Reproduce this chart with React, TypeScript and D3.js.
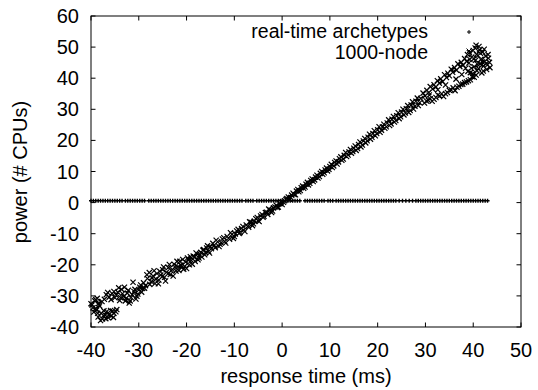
import React from 'react';
import * as d3 from 'd3';

// tick values
const xTicks = [-40, -30, -20, -10, 0, 10, 20, 30, 40, 50];
const yTicks = [-40, -30, -20, -10, 0, 10, 20, 30, 40, 50, 60];

// "real-time archetypes" sits on a flat line
const archY = 0.6;
const archX = [
  -40, -39.5, -39, -38.5, -38, -37.5, -37, -36.5, -36, -35.5, -35, -34.5, -34, -33.5, -32.8, -32.3, -31.8, -31.3,
  -30.8, -30.3, -29.8, -29.3, -28.8, -27.9, -27.4, -26.9, -26.4, -25.9, -25.4, -24.9, -24.4, -23.9, -23.4, -22.9,
  -22.4, -21.9, -21.4, -20.9, -20.4, -19.9, -19.4, -18.9, -18.4, -17.9, -17.4, -16.9, -16.4, -15.9, -15.4, -14.9,
  -14.4, -13.9, -13.4, -12.9, -12.4, -11.9, -11.4, -10.9, -10.4, -9.9, -9.4, -8.9, -8.4, -7.6, -7.1, -6.6, -6.1,
  -5.3, -4.8, -4.3, -3.8, -3.3, -2.8, -2.3, -1.8, -1.3, -0.8, -0.3, 0.2, 0.7, 1.2, 1.7, 2.2, 2.7, 3.2, 3.7, 4.8, 5.3,
  5.8, 6.3, 6.8, 7.3, 7.8, 8.3, 8.8, 9.6, 10.1, 10.6, 11.3, 11.8, 12.3, 12.8, 13.3, 13.8, 14.3, 14.8, 15.3, 15.8,
  16.3, 16.8, 17.3, 17.8, 18.3, 18.8, 19.3, 19.8, 20.3, 20.8, 21.3, 21.8, 22.3, 22.8, 23.3, 23.8, 24.5, 25.2, 25.9,
  26.6, 27.3, 28, 28.5, 29, 29.5, 30, 30.5, 31, 31.5, 32, 32.5, 33, 33.5, 34, 34.5, 35, 35.5, 36, 36.5, 37, 37.5, 38,
  38.5, 39, 39.5, 40, 40.5, 41, 41.5, 42, 42.5, 43,
];

// "1000-node" points as [response time, power]
const nodeLow: [number, number][] = [
  [-40, -32.5], [-39.6, -33.8], [-39.2, -31.6], [-38.8, -34.5], [-38.5, -36.8], [-38.2, -33.2], [-37.9, -35.6],
  [-37.6, -37.4], [-37.3, -34.8], [-37, -36.2], [-36.7, -35], [-36.4, -37], [-36.1, -35.8], [-35.8, -36.4],
  [-35.5, -34.9], [-35.2, -35.6], [-34.8, -35.1],
  [-39.8, -32.9], [-39.4, -35.2], [-39, -34], [-38.6, -35.6], [-38, -37.9], [-37.4, -36.3], [-36.9, -37.3],
  [-36.3, -36.1], [-35.9, -34.7], [-35.3, -36.9], [-34.6, -34.4],
  [-39, -31.2], [-38.4, -32.4], [-37.7, -31.8], [-36.8, -29.6], [-36.2, -30.4], [-35.6, -29.2], [-35, -30.6],
  [-34.4, -28.8], [-34, -31.5], [-33.6, -27.9], [-33.2, -30.2], [-32.8, -31.6], [-32.4, -29.1], [-32, -32.3],
  [-31.6, -30.5], [-31.2, -25.6], [-31, -28.6], [-30.6, -31], [-30.2, -29.4], [-29.8, -27.2], [-29.4, -28.8],
  [-38.7, -30.8], [-37.2, -31.1], [-36.5, -28.9], [-35.8, -31.2], [-35.2, -28.6], [-34.7, -29.8], [-34.2, -27.4],
  [-33.8, -30.6], [-33.4, -29.3], [-33, -27.2], [-32.6, -30.7], [-32.2, -28.2], [-31.8, -31.6], [-31.4, -29.6],
  [-30.8, -27.9], [-30.4, -30.1], [-30, -28.1], [-29.6, -26.5], [-29.2, -27.6],
];
const nodeMid: [number, number][] = [
  [-29, -25.8], [-28.6, -26.7], [-28.2, -24.4], [-27.8, -22.5], [-27.4, -25.4], [-27, -23.6], [-26.6, -26],
  [-26.2, -22.8], [-25.8, -24.9], [-25.4, -23.3], [-25, -21.6], [-24.6, -24], [-24.2, -22.4], [-23.8, -20.9],
  [-23.4, -23.1], [-23, -21.5], [-22.6, -19.8], [-22.2, -22], [-21.8, -20.6], [-21.4, -18.9], [-21, -20.3],
  [-20.6, -21.4], [-20.2, -19.1], [-19.8, -17.8], [-19.4, -20], [-19, -18.6], [-18.6, -17.2], [-18.2, -18.9],
  [-17.8, -16.5], [-17.4, -17.8], [-17, -16], [-16.6, -15.3], [-16.2, -16.8], [-15.8, -14.6], [-15.4, -15.7],
  [-15, -14.2], [-14.5, -13.1], [-14, -14.5], [-13.5, -12.6], [-13, -13.4], [-12.5, -11.7], [-12, -12.5],
  [-11.5, -10.9], [-11, -11.8], [-10.5, -10.2], [-10, -10.9], [-9.5, -9.1], [-9, -9.9], [-8.5, -8.3], [-8, -8.8],
  [-7.5, -7.2], [-7, -7.9], [-6.5, -6.3], [-6, -6.8], [-5.5, -5.2], [-5, -5.8], [-4.5, -4.3], [-4, -4.7],
  [-3.5, -3.2], [-3, -3.8], [-2.5, -2.4], [-2, -2.7], [-1.5, -1.4], [-1, -1.6], [-0.5, -0.4], [0, -0.6],
  [-28.8, -27.5], [-28.3, -23.2], [-27.7, -26.3], [-27.2, -24.2], [-26.8, -21.9], [-26.4, -24.6], [-25.9, -26.1],
  [-25.6, -22.1], [-25.1, -23.8], [-24.8, -20.7], [-24.4, -25.2], [-23.9, -22.9], [-23.6, -19.9], [-23.2, -21.9],
  [-22.8, -23.6], [-22.4, -20.8], [-22, -18.9], [-21.6, -21.8], [-21.2, -20.1], [-20.8, -18.3], [-20.4, -20.5],
  [-20, -21.2], [-19.6, -18.5], [-19.2, -17.4], [-18.8, -19.8], [-18.4, -17.6], [-18, -16.2], [-17.6, -18.4],
  [-17.2, -16.9], [-16.8, -17.5], [-16.4, -15.1], [-16, -16.1], [-15.6, -13.9], [-15.2, -16.2], [-14.8, -14.8],
  [-14.2, -13.7], [-13.8, -12.1], [-13.2, -14.1], [-12.8, -12.9], [-12.2, -11.3], [-11.8, -13], [-11.2, -11.4],
  [-10.8, -9.7], [-10.2, -11.5], [-9.8, -10.1], [-9.2, -8.6], [-8.8, -9.6], [-8.2, -7.7], [-7.8, -9.3],
  [-7.2, -7.6], [-6.8, -6.2], [-6.2, -7.4], [-5.8, -5.9], [-5.2, -4.8], [-4.8, -6.1], [-4.2, -3.8], [-3.8, -4.4],
  [-3.2, -3.1], [-2.8, -2.1], [-2.2, -3.2], [-1.8, -1.7], [-1.2, -0.9], [-0.8, -1.4], [-0.2, 0.2],
  [0.5, 0.6], [1, 1.3], [1.5, 1.1], [2, 2.4], [2.5, 2.6], [3, 3.7], [3.5, 3.5], [4, 4.8], [4.5, 4.6], [5, 5.9],
  [5.5, 5.7], [6, 7.1], [6.5, 6.8], [7, 8.2], [7.5, 7.9], [8, 9.4], [8.5, 9.1], [9, 10.5], [9.5, 10.2], [10, 11.6],
  [10.5, 11.3], [11, 12.9], [11.5, 12.4], [12, 14.1], [12.5, 13.6], [13, 15.2], [13.5, 14.8], [14, 16.3],
  [14.5, 15.9], [15, 17.5], [15.5, 16.8], [16, 18.7], [16.5, 17.9], [17, 19.8], [17.5, 19.2], [18, 21],
  [18.5, 20.4], [19, 22.2], [19.5, 21.5], [20, 23.4], [20.5, 22.6], [21, 24.3], [21.5, 23.9], [22, 25.6],
  [22.5, 24.8], [23, 26.8], [23.5, 25.9], [24, 27.9], [24.5, 27], [25, 29.1], [25.5, 28.2], [26, 30.2],
  [26.5, 29], [27, 31.4], [27.5, 30.1], [28, 32.6], [28.5, 31.2], [29, 33.5],
  [0.3, 0.1], [0.8, 1], [1.3, 1.8], [1.8, 1.6], [2.3, 3], [2.8, 2.5], [3.3, 4.2], [3.8, 3.9], [4.3, 5.3], [4.8, 5],
  [5.3, 6.5], [5.8, 6.2], [6.3, 7.6], [6.8, 7.3], [7.3, 8.8], [7.8, 8.4], [8.3, 10], [8.8, 9.6], [9.3, 11.1],
  [9.8, 10.7], [10.3, 12.3], [10.8, 11.8], [11.3, 13.4], [11.8, 13.1], [12.3, 14.7], [12.8, 14], [13.3, 16.1],
  [13.8, 15.3], [14.3, 17.1], [14.8, 16.4], [15.3, 18.2], [15.8, 17.4], [16.3, 19.5], [16.8, 18.5], [17.3, 20.6],
  [17.8, 19.9], [18.3, 22], [18.8, 21], [19.3, 23.1], [19.8, 22.2], [20.3, 24.4], [20.8, 23.3], [21.3, 25.2],
  [21.8, 24.4], [22.3, 26.6], [22.8, 25.3], [23.3, 27.7], [23.8, 26.4], [24.3, 28.9], [24.8, 27.6], [25.3, 30],
  [25.8, 28.8], [26.3, 31.2], [26.8, 29.6], [27.3, 32.4], [27.8, 31], [28.3, 33.6], [28.8, 32.1],
];
const nodeHigh: [number, number][] = [
  [29.5, 35.2], [30.3, 36.1], [31, 37.3], [31.8, 37.9], [32.5, 39.2], [33.2, 39.8], [34, 41.1], [34.7, 41.6],
  [35.4, 42.9], [36.1, 43.4], [36.8, 44.6], [37.5, 45.1], [38.2, 46.3],
  [29.9, 34.3], [30.7, 35.4], [31.5, 36.5], [32.2, 37.2], [32.9, 38.4], [33.6, 38.9], [34.4, 40.2], [35, 40.8],
  [35.7, 41.9], [36.5, 42.6], [37.2, 43.7], [37.9, 44.2],
  [29.8, 32], [30.6, 32.9], [31.4, 32.6], [32.2, 33.8], [33, 34.3], [33.8, 34.1], [34.6, 35.4], [35.4, 36.2],
  [36.2, 36], [37, 37.4], [37.8, 38.1], [38.6, 38.8], [39.4, 39.5], [40.2, 40.3],
  [30.2, 32.7], [31, 33.4], [31.8, 33.2], [32.6, 34.6], [33.4, 35], [34.2, 35], [35, 36.1], [35.8, 36.9],
  [36.6, 37.1], [37.4, 38], [38.2, 38.6], [39, 39.2], [39.8, 40.5], [40.6, 41],
  [30.8, 34.6], [32.6, 36.3], [34.2, 37.8], [36.4, 39.7], [37.6, 41.2],
  [38.4, 43.2], [38.8, 47.6], [39.1, 44.9], [39.4, 41.8], [39.7, 46.8], [40, 48.9], [40.2, 43.7], [40.5, 45.8],
  [40.8, 42.4], [41, 47.3], [41.2, 50.2], [41.4, 44.6], [41.6, 46.1], [41.8, 41.7], [42, 48.4], [42.2, 43.9],
  [42.4, 45.4], [42.6, 47.1], [42.8, 42.8], [43, 44.3], [43.2, 46.4], [43.5, 43.4], [41.3, 49.1], [40.6, 50.6],
  [38.6, 45.4], [39.2, 48.2], [39.6, 43.2], [40.1, 46.2], [40.4, 49.7], [40.9, 44.5], [41.5, 48], [41.9, 45.2],
  [42.3, 49.3], [42.7, 44.7], [43.1, 47.6], [43.4, 45.1], [42.1, 42.3], [41.1, 43.1], [39.9, 41.5], [38.9, 42.2],
  [39.3, 46], [40.7, 47.6],
];
const nodePoints = [...nodeLow, ...nodeMid, ...nodeHigh];

const W = 538;
const H = 390;
const margin = { top: 16, right: 17, bottom: 63, left: 91 };
const font = '"Liberation Sans", Arial, sans-serif';

const plus = (cx: number, cy: number, r: number) => `M${cx - r},${cy}H${cx + r}M${cx},${cy - r}V${cy + r}`;
const cross = (cx: number, cy: number, r: number) =>
  `M${cx - r},${cy - r}L${cx + r},${cy + r}M${cx - r},${cy + r}L${cx + r},${cy - r}`;

export default function App() {
  const x = d3.scaleLinear().domain([-40, 50]).range([margin.left, W - margin.right]);
  const y = d3.scaleLinear().domain([-40, 60]).range([H - margin.bottom, margin.top]);
  const [x0, x1] = x.range();
  const [y0, y1] = y.range();
  const tk = 4.5;

  const archPath = archX.map(v => plus(x(v), y(archY), 2)).join('');
  const nodePath = nodePoints.map(d => cross(x(d[0]), y(d[1]), 2.6)).join('');

  return (
    <svg width={W} height={H} style={{ position: 'absolute', left: 0, top: 0, background: '#fff' }}
      fontFamily={font} fontSize={20}>
      {/* ticks, mirrored on all sides */}
      <g stroke="#000" strokeWidth={1}>
        {xTicks.map(t => (
          <g key={'x' + t}>
            <line x1={x(t)} x2={x(t)} y1={y0} y2={y0 - tk} />
            <line x1={x(t)} x2={x(t)} y1={y1} y2={y1 + tk} />
          </g>
        ))}
        {yTicks.map(t => (
          <g key={'y' + t}>
            <line x1={x0} x2={x0 + tk} y1={y(t)} y2={y(t)} />
            <line x1={x1} x2={x1 - tk} y1={y(t)} y2={y(t)} />
          </g>
        ))}
      </g>
      {xTicks.map(t => (
        <text key={'xl' + t} x={x(t)} y={357} textAnchor="middle">{t}</text>
      ))}
      {yTicks.map(t => (
        <text key={'yl' + t} x={79} y={y(t) + 7} textAnchor="end">{t}</text>
      ))}

      {/* data */}
      <path d={archPath} stroke="#000" strokeWidth={1.4} fill="none" />
      <path d={nodePath} stroke="#000" strokeWidth={1.2} fill="none" />

      {/* legend */}
      <g fontSize={19.5}>
        <text x={428} y={38} textAnchor="end">real-time archetypes</text>
        <text x={428} y={59} textAnchor="end">1000-node</text>
      </g>
      <path d={plus(469, 32, 2)} stroke="#000" strokeWidth={1} />
      <path d={cross(469, 51, 2.5)} stroke="#000" strokeWidth={1} />

      <rect x={x0} y={y1} width={x1 - x0} height={y0 - y1} fill="none" stroke="#000" strokeWidth={1} />

      <text x={(x0 + x1) / 2} y={383} textAnchor="middle">response time (ms)</text>
      <text transform={`translate(27,172) rotate(-90)`} textAnchor="middle">power (# CPUs)</text>
    </svg>
  );
}
